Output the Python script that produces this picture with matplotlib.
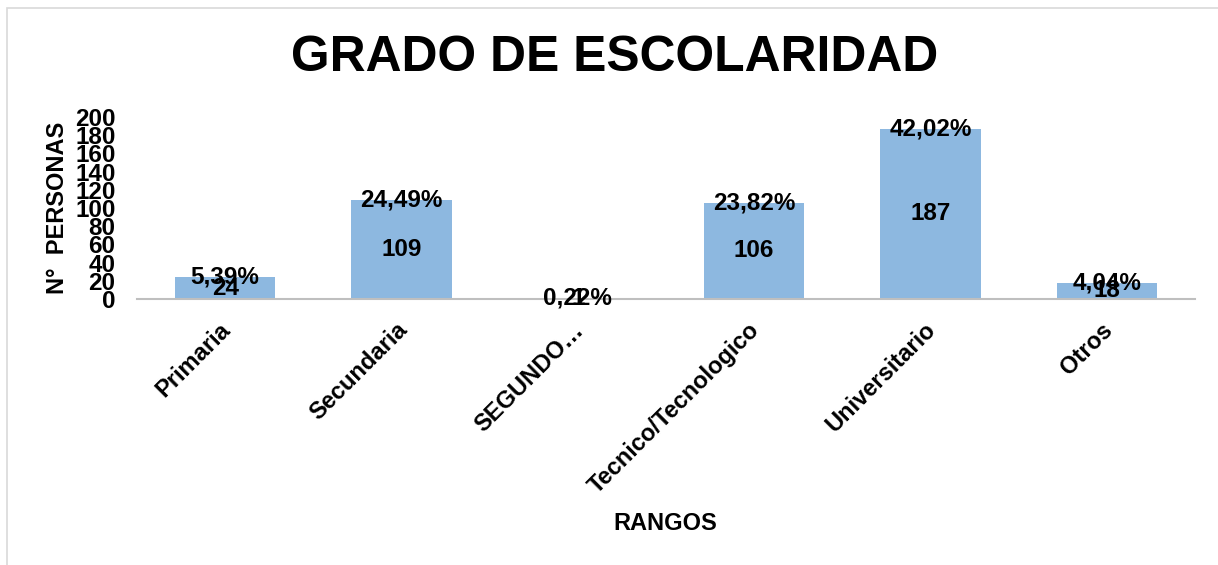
import matplotlib.pyplot as plt
from matplotlib.patches import Rectangle
from matplotlib.transforms import ScaledTranslation
import numpy as np

categories = ["Primaria", "Secundaria", "SEGUNDO…", "Tecnico/Tecnologico", "Universitario", "Otros"]
values = [24, 109, 1, 106, 187, 18]
percents = ["5,39%", "24,49%", "0,22%", "23,82%", "42,02%", "4,04%"]
yticks = list(range(0, 201, 20))

plt.rcParams['font.family'] = ['Liberation Sans', 'DejaVu Sans']
plt.rcParams['font.weight'] = 'bold'

fig = plt.figure(figsize=(12.18, 5.65), dpi=100)
ax = fig.add_axes([137/1218, 1-299/565, (1195-137)/1218, (299-117)/565])

x = np.arange(len(categories))
bars = ax.bar(x, values, width=0.57, color='#8DB8E0', zorder=2)
ax.set_xlim(-0.5, len(categories)-0.5)
ax.set_ylim(0, 200)
ax.set_yticks(yticks)
ax.set_yticklabels([str(t) for t in yticks], fontsize=17.5, fontweight='bold')
ax.set_xticks(x)
ax.set_xticklabels(categories, rotation=45, ha='right', rotation_mode='anchor',
                   fontsize=17, fontweight='bold')
ax.tick_params(axis='y', length=0, pad=15.5)
ax.tick_params(axis='x', length=0, pad=14)
offset = ScaledTranslation(-6/100, 0, fig.dpi_scale_trans)
for lab in ax.get_xticklabels():
    lab.set_transform(lab.get_transform() + offset)
for s in ['top', 'right', 'left']:
    ax.spines[s].set_visible(False)
ax.spines['bottom'].set_color('#BFBFBF')
ax.spines['bottom'].set_linewidth(1.5)

for xi, v, p in zip(x, values, percents):
    ax.text(xi, v/2, str(v), ha='center', va='center', fontsize=17.5, fontweight='bold', zorder=3)
    ax.text(xi, v, p, ha='center', va='center', fontsize=17.5, fontweight='bold', zorder=3)

ax.set_ylabel("N°  PERSONAS", fontsize=17, fontweight='bold')
ax.yaxis.set_label_coords((69-137)/(1195-137), 0.5)
fig.text(665/1218, 1-523/565, "RANGOS", ha='center', va='center', fontsize=17, fontweight='bold')
fig.text(615/1218, 1-58/565, "GRADO DE ESCOLARIDAD", ha='center', va='center', fontsize=35.8, fontweight='bold')

fig.patches.append(Rectangle((7/1218, -0.1), 1.2, 1-8/565+0.1, transform=fig.transFigure,
                             fill=False, edgecolor='#D9D9D9', linewidth=1.2))

fig.savefig("out.png", dpi=100)
